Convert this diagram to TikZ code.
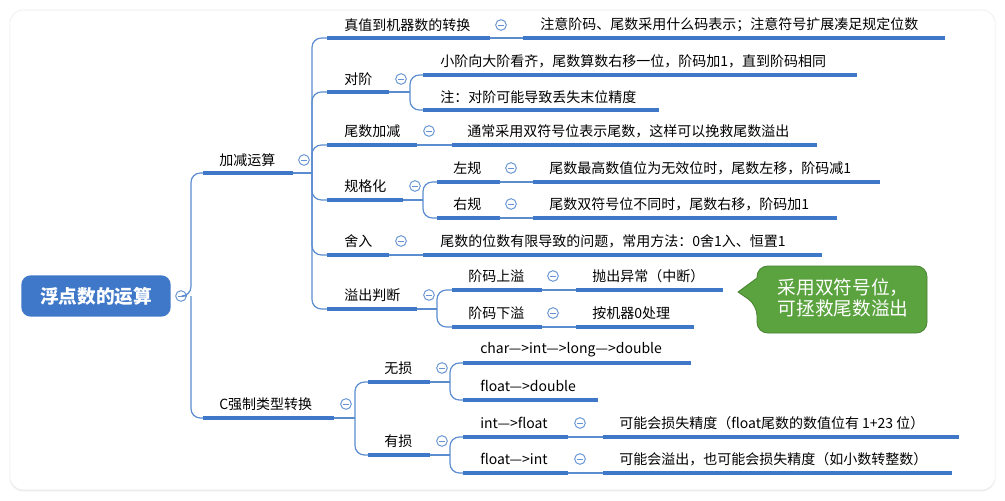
\documentclass[tikz,border=0pt]{standalone}
\usepackage{fontspec}
\setmainfont{Noto Sans CJK SC}
\usetikzlibrary{shadows}
\definecolor{mblue}{HTML}{3F78C8}
\definecolor{mgreen}{HTML}{5BA33F}
\tikzset{
  bar/.style={line width=3pt,draw=mblue,line cap=butt},
  conn/.style={line width=0.9pt,draw=mblue!85,rounded corners=7pt},
  txt/.style={anchor=west,inner sep=0pt,font=\fontsize{10.5}{12}\selectfont},
  tog/.style={circle,draw=mblue!80,line width=0.7pt,minimum size=8pt,inner sep=0pt,fill=white,
    path picture={\draw[mblue!80,line width=0.6pt] ([xshift=-2pt]path picture bounding box.center) -- ([xshift=2pt]path picture bounding box.center);}},
}
\newcommand{\tbar}[4]{\coordinate (#1S) at (#2,#4); \coordinate (#1E) at (#3,#4); \draw[bar] (#1S) -- (#1E);}
\begin{document}
\begin{tikzpicture}[x=0.75pt,y=-0.75pt]
\useasboundingbox (0,0) rectangle (1005,500);
\fill[white] (0,0) rectangle (1005,500);
\node[draw=black!8,fill=white,rounded corners=10pt,drop shadow={opacity=0.15,shadow xshift=0pt,shadow yshift=-1pt},minimum width=739pt,minimum height=360pt,inner sep=0pt] (frame) at (502.5,250) {};

% root
\node[fill=mblue,rounded corners=7pt,minimum width=112pt,minimum height=31pt,text=white,font=\fontsize{14}{16}\selectfont\bfseries] (root) at (96,296) {浮点数的运算};
\node[tog] (troot) at (181,296) {};

% level 1
\tbar{a}{203}{293}{173}  \node[txt] (ta) at (219,160) {加减运算};  \node[tog] (ca) at (304,160) {};
\tbar{b}{203}{334}{418}  \node[txt] (tb) at (219,404) {C强制类型转换}; \node[tog] (cb) at (346,404) {};
\coordinate (f0) at (191,296);
\draw[conn] (troot.east) -- (f0) |- (aS);
\draw[conn] (f0) |- (bS);

% level 2 under a
\coordinate (fa) at (312,173);
\draw[line width=0.9pt,mblue!85] (aE) -- (fa);
\tbar{a1}{327}{490}{38}  \node[txt] at (344,25) {真值到机器数的转换}; \node[tog] (ca1) at (501,25) {};
\tbar{a2}{327}{389}{92}  \node[txt] at (344,79) {对阶}; \node[tog] (ca2) at (401,79) {};
\tbar{a3}{327}{417}{145} \node[txt] at (344,131) {尾数加减}; \node[tog] (ca3) at (429,131) {};
\tbar{a4}{327}{403}{200} \node[txt] at (344,186) {规格化}; \node[tog] (ca4) at (415,186) {};
\tbar{a5}{327}{389}{255} \node[txt] at (344,241) {舍入}; \node[tog] (ca5) at (401,241) {};
\tbar{a6}{327}{417}{309} \node[txt] at (344,295) {溢出判断}; \node[tog] (ca6) at (429,295) {};
\foreach \c in {a1,a2,a3,a4,a5,a6} \draw[conn] (fa) |- (\c S);

% leaves of a1
\tbar{l1}{523}{945}{38} \node[txt] at (540,25) {注意阶码、尾数采用什么码表示；注意符号扩展凑足规定位数};
\draw[line width=0.9pt,mblue!85] (a1E) -- (l1S);
% a2 children
\coordinate (fa2) at (410,92);
\draw[line width=0.9pt,mblue!85] (a2E) -- (fa2);
\tbar{l21}{423}{857}{75}  \node[txt] at (440,61) {小阶向大阶看齐，尾数算数右移一位，阶码加1，直到阶码相同};
\tbar{l22}{423}{659}{110} \node[txt] at (440,97) {注：对阶可能导致丢失末位精度};
\draw[conn] (fa2) |- (l21S); \draw[conn] (fa2) |- (l22S);
% a3 leaf
\tbar{l3}{452}{817}{145} \node[txt] at (467,131) {通常采用双符号位表示尾数，这样可以挽救尾数溢出};
\draw[line width=0.9pt,mblue!85] (a3E) -- (l3S);
% a4 children
\coordinate (fa4) at (423,200);
\draw[line width=0.9pt,mblue!85] (a4E) -- (fa4);
\tbar{l41}{437}{500}{182} \node[txt] at (453,168) {左规}; \node[tog] at (511,168) {};
\tbar{l42}{437}{500}{218} \node[txt] at (453,204) {右规}; \node[tog] at (511,204) {};
\draw[conn] (fa4) |- (l41S); \draw[conn] (fa4) |- (l42S);
\tbar{m41}{533}{880}{182} \node[txt] at (549,168) {尾数最高数值位为无效位时，尾数左移，阶码减1};
\tbar{m42}{533}{837}{218} \node[txt] at (549,204) {尾数双符号位不同时，尾数右移，阶码加1};
\draw[line width=0.9pt,mblue!85] (l41E) -- (m41S);
\draw[line width=0.9pt,mblue!85] (l42E) -- (m42S);
% a5 leaf
\tbar{l5}{423}{822}{255} \node[txt] at (440,241) {尾数的位数有限导致的问题，常用方法：0舍1入、恒置1};
\draw[line width=0.9pt,mblue!85] (a5E) -- (l5S);
% a6 children
\coordinate (fa6) at (437,309);
\draw[line width=0.9pt,mblue!85] (a6E) -- (fa6);
\tbar{l61}{452}{542}{290} \node[txt] at (468,276) {阶码上溢}; \node[tog] at (553,276) {};
\tbar{l62}{452}{542}{327} \node[txt] at (468,313) {阶码下溢}; \node[tog] at (553,313) {};
\draw[conn] (fa6) |- (l61S); \draw[conn] (fa6) |- (l62S);
\tbar{m61}{576}{723}{290} \node[txt] at (592,276) {抛出异常（中断）};
\tbar{m62}{576}{694}{327} \node[txt] at (592,313) {按机器0处理};
\draw[line width=0.9pt,mblue!85] (l61E) -- (m61S);
\draw[line width=0.9pt,mblue!85] (l62E) -- (m62S);

% callout
\draw[fill=mgreen,draw=mgreen!80!black,line width=0.6pt,rounded corners=8pt]
  (757,266) -- (927,266) -- (927,333) -- (757,333) -- (757,305) [sharp corners] -- (738,292) -- (757,278) [rounded corners=8pt] -- cycle;
\node[text=white,align=left,font=\fontsize{14}{15.5}\selectfont] (callout) at (843,298) {采用双符号位，\\可拯救尾数溢出};

% level 2 under b
\coordinate (fb) at (355,418);
\draw[line width=0.9pt,mblue!85] (bE) -- (fb);
\tbar{b1}{368}{430}{382} \node[txt] at (384,368) {无损}; \node[tog] (cb1) at (442,368) {};
\tbar{b2}{368}{430}{455} \node[txt] at (384,441) {有损}; \node[tog] (cb2) at (442,441) {};
\draw[conn] (fb) |- (b1S); \draw[conn] (fb) |- (b2S);
\coordinate (fb1) at (450,382);
\draw[line width=0.9pt,mblue!85] (b1E) -- (fb1);
\tbar{n11}{463}{691}{363} \node[txt] at (480,350) {char—>int—>long—>double};
\tbar{n12}{463}{598}{400} \node[txt] at (480,386) {float—>double};
\draw[conn] (fb1) |- (n11S); \draw[conn] (fb1) |- (n12S);
\coordinate (fb2) at (450,455);
\draw[line width=0.9pt,mblue!85] (b2E) -- (fb2);
\tbar{n21}{463}{568}{437} \node[txt] at (480,423) {int—>float}; \node[tog] at (580,423) {};
\tbar{n22}{463}{568}{473} \node[txt] at (480,459) {float—>int}; \node[tog] at (580,459) {};
\draw[conn] (fb2) |- (n21S); \draw[conn] (fb2) |- (n22S);
\tbar{o21}{603}{959}{437} \node[txt] at (619,423) {可能会损失精度（float尾数的数值位有 1+23 位）};
\tbar{o22}{603}{952}{473} \node[txt] at (619,459) {可能会溢出，也可能会损失精度（如小数转整数）};
\draw[line width=0.9pt,mblue!85] (n21E) -- (o21S);
\draw[line width=0.9pt,mblue!85] (n22E) -- (o22S);
\end{tikzpicture}
\end{document}
